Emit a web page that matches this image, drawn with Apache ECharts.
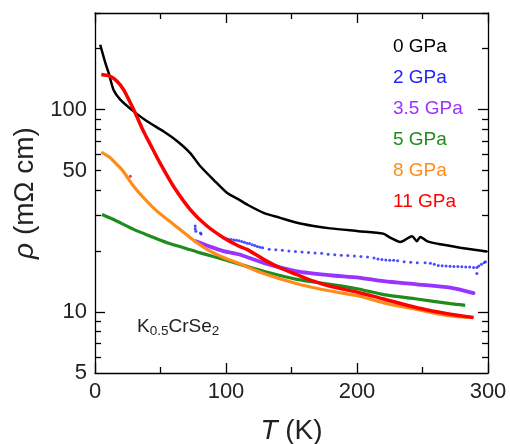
<!DOCTYPE html>
<html>
<head>
<meta charset="utf-8">
<script src="https://cdn.jsdelivr.net/npm/echarts@6/dist/echarts.min.js"></script>
<style>
html,body{margin:0;padding:0;background:#fff;}
#chart{width:510px;height:444px;}
</style>
</head>
<body>
<div id="chart"></div>
<script>
// ---- Data (T in K, rho in mOhm cm) ----
const seriesNames = ['0 GPa', '2 GPa', '3.5 GPa', '5 GPa', '8 GPa', '11 GPa'];
const seriesColors = ['#000000', '#1f1fff', '#9933ff', '#1f8c1f', '#ff8c1a', '#ff0000'];

const p0_T   = [4.0, 7.9, 10.4, 14.2, 19.3, 29.5, 39.7, 52.4, 62.6, 72.7, 80.4, 90.5, 100.7, 109.6, 116, 128.7, 141.4, 154.2, 166.8, 179.6, 201, 220, 225.4, 233, 242, 245.7, 248.3, 253.4, 263.5, 278.8, 299.2];
const p0_rho = [209, 170, 152, 125, 112, 98, 87.6, 78, 70, 61, 52.5, 45, 38.8, 36, 34, 30.9, 29.2, 27.6, 26.6, 25.9, 25.1, 24.4, 23.3, 22.2, 23.7, 22.4, 23.5, 22.4, 21.6, 20.8, 19.9];

const p2_T   = [76.5, 76.5, 77, 80.5, 81, 98, 100, 102, 104, 106, 108, 110, 112, 114, 116, 118, 120, 122, 124, 126, 128, 133, 138, 143, 148, 153, 158, 163, 168, 173, 178, 183, 188, 193, 198, 203, 208, 213, 216, 219, 222, 225, 228, 231, 236, 241, 246, 252, 256, 259, 262, 265, 268, 271, 274, 277, 280, 283, 286, 289, 291.5, 291.5, 293, 295, 297, 298];
const p2_rho = [26.6, 25.8, 25.1, 24.6, 24.3, 23.3, 23.1, 22.9, 22.8, 22.7, 22.6, 22.5, 22.3, 22.1, 21.9, 21.8, 21.5, 21.3, 21.1, 20.9, 20.8, 20.4, 20.3, 20.2, 20.0, 19.9, 19.8, 19.7, 19.6, 19.5, 19.3, 19.2, 19.1, 19.0, 18.9, 18.8, 18.7, 18.5, 18.3, 18.2, 18.1, 18.0, 18.0, 17.9, 17.7, 17.6, 17.5, 17.5, 17.4, 17.2, 17.0, 16.95, 16.9, 16.85, 16.8, 16.8, 16.75, 16.7, 16.7, 16.6, 16.6, 15.5, 16.9, 17.2, 17.5, 17.7];

const p35_T   = [76.5, 85.5, 98.1, 109.6, 128.7, 154.2, 179.6, 201.2, 220.3, 245.7, 271.2, 289];
const p35_rho = [22.4, 21.3, 20.0, 19.3, 17.5, 15.9, 15.2, 14.8, 14.2, 13.7, 13.2, 12.4];

const p5_T   = [5.3, 16.8, 29.5, 42.2, 55, 67.6, 80.4, 93.1, 108.4, 128.7, 154.2, 179.6, 201.2, 220.3, 245.7, 271.2, 282.6];
const p5_rho = [30.3, 28.1, 25.6, 23.7, 22.0, 20.8, 19.6, 18.6, 17.4, 15.9, 14.5, 13.7, 13.0, 12.2, 11.6, 11.0, 10.8];

const p8_T   = [4.8, 11.7, 14.2, 19.3, 21.8, 29.5, 37.1, 47.3, 60, 72.7, 85.5, 98.1, 109.6, 128.7, 154.2, 179.6, 201.2, 220.3, 245.7, 271.2, 285];
const p8_rho = [61.6, 57.8, 55.6, 51.5, 49.3, 41.8, 36.7, 31.5, 27.1, 23.3, 20.4, 18.6, 17.4, 15.5, 13.8, 12.7, 12.0, 11.1, 10.3, 9.56, 9.4];

const p11_T   = [4.8, 11.7, 16.8, 21.8, 29.5, 37.1, 40.9, 49.8, 60, 72.7, 85.5, 98.1, 109.6, 116, 128.7, 141.4, 154.2, 166.8, 179.6, 201.2, 220.3, 245.7, 271.2, 289];
const p11_rho = [149, 146, 138, 125.5, 100, 77.9, 69.9, 54.2, 41.7, 32.1, 26.6, 23.3, 21.2, 20.4, 18.2, 16.5, 15.3, 14.2, 13.4, 12.5, 11.6, 10.5, 9.75, 9.4];

const p11_strayT = [27];
const p11_strayRho = [46.9];

// ---- Axis ticks / labels ----
const xMin = 0, xMax = 300, xInterval = 100;
const yMin = 5, yMax = 300;
const yLabelValues = [5, 10, 50, 100];
const yMajorTicks = [10, 100];
const yMinorTicks = [6, 7, 8, 9, 20, 30, 40, 50, 60, 70, 80, 90, 200, 300];

const FONT = 'Liberation Sans, Arial, Helvetica, sans-serif';

function pairs(xs, ys) { return xs.map((x, i) => [x, ys[i]]); }

const chart = echarts.init(document.getElementById('chart'), null, { renderer: 'canvas' });

const axisLineStyle = { color: '#000', width: 1.3 };
const tickStyle = { color: '#000', width: 1.3 };

const baseY = {
  type: 'log', logBase: 10, min: yMin, max: yMax,
  splitLine: { show: false }, minorSplitLine: { show: false }
};
// decorative tick axes in log10 space (value axes)
const lg = Math.log10;
const baseTickY = {
  type: 'value', min: lg(yMin), max: lg(yMax),
  splitLine: { show: false }, axisLabel: { show: false }
};

const option = {
  backgroundColor: '#fff',
  animation: false,
  grid: { left: 95, right: 22, top: 13, bottom: 71, containLabel: false, outerBoundsMode: 'none' },
  legend: {
    orient: 'vertical', left: 383, top: 32,
    itemWidth: 0, itemHeight: 0, itemGap: 12,
    selectedMode: false,
    textStyle: { fontSize: 19, fontFamily: FONT },
    data: seriesNames.map((n, i) => ({ name: n, icon: 'rect', textStyle: { color: seriesColors[i] } }))
  },
  xAxis: [
    {
      type: 'value', min: xMin, max: xMax, interval: xInterval, position: 'bottom',
      axisLine: { show: true, lineStyle: axisLineStyle },
      axisTick: { show: true, inside: true, length: 10, lineStyle: tickStyle },
      minorTick: { show: true, splitNumber: 2, length: 6, lineStyle: tickStyle },
      axisLabel: { fontSize: 22, color: '#222', fontFamily: FONT, margin: 8 },
      splitLine: { show: false },
      name: '{i|T} (K)', nameLocation: 'middle', nameGap: 44,
      nameTextStyle: { fontSize: 28, color: '#222', fontFamily: FONT,
        rich: { i: { fontStyle: 'italic', fontSize: 28, color: '#222', fontFamily: FONT } } }
    },
    {
      type: 'value', min: xMin, max: xMax, interval: xInterval, position: 'top',
      axisLine: { show: true, lineStyle: axisLineStyle },
      axisTick: { show: true, inside: true, length: 10, lineStyle: tickStyle },
      minorTick: { show: true, splitNumber: 2, length: 6, lineStyle: tickStyle },
      axisLabel: { show: false }, splitLine: { show: false }
    }
  ],
  yAxis: [
    Object.assign({}, baseY, {
      position: 'left',
      axisLine: { show: true, lineStyle: axisLineStyle },
      axisTick: { show: true, inside: true, length: 10, customValues: yMajorTicks, lineStyle: tickStyle },
      axisLabel: { show: true, customValues: yLabelValues, fontSize: 22, color: '#222', fontFamily: FONT, margin: 8 },
      name: '{i|ρ} (mΩ cm)', nameLocation: 'middle', nameGap: 52, nameRotate: 90,
      nameTextStyle: { fontSize: 28, color: '#222', fontFamily: FONT,
        rich: { i: { fontStyle: 'italic', fontSize: 28, color: '#222', fontFamily: FONT } } }
    }),
    Object.assign({}, baseY, {
      position: 'left',
      axisLine: { show: false },
      axisTick: { show: true, inside: true, length: 6, customValues: yMinorTicks, lineStyle: tickStyle },
      axisLabel: { show: false }
    }),
    Object.assign({}, baseTickY, {
      position: 'right',
      axisLine: { show: true, lineStyle: axisLineStyle },
      axisTick: { show: true, inside: true, length: 10, customValues: yMajorTicks.map(lg), lineStyle: tickStyle }
    }),
    Object.assign({}, baseTickY, {
      position: 'right',
      axisLine: { show: false },
      axisTick: { show: true, inside: true, length: 6, customValues: yMinorTicks.map(lg), lineStyle: tickStyle }
    })
  ],
  graphic: [
    {
      type: 'text', left: 137, top: 317,
      style: {
        text: 'K{s|0.5}CrSe{s|2}',
        font: '19px ' + FONT, fill: '#222',
        rich: {
          s: { fontSize: 13.5, fontFamily: FONT, fill: '#222', padding: [9, 0, 0, 0] }
        }
      }
    }
  ],
  series: [
    { name: seriesNames[0], type: 'line', data: pairs(p0_T, p0_rho), showSymbol: false, smooth: 0.25,
      lineStyle: { color: seriesColors[0], width: 2.5 }, itemStyle: { color: seriesColors[0] } },
    { name: seriesNames[1], type: 'scatter', data: pairs(p2_T, p2_rho), symbol: 'circle', symbolSize: 3,
      itemStyle: { color: seriesColors[1] } },
    { name: seriesNames[2], type: 'line', data: pairs(p35_T, p35_rho), showSymbol: false, smooth: 0.25,
      lineStyle: { color: seriesColors[2], width: 3.8, cap: 'round' }, itemStyle: { color: seriesColors[2] } },
    { name: seriesNames[3], type: 'line', data: pairs(p5_T, p5_rho), showSymbol: false, smooth: 0.25,
      lineStyle: { color: seriesColors[3], width: 3.2 }, itemStyle: { color: seriesColors[3] } },
    { name: seriesNames[4], type: 'line', data: pairs(p8_T, p8_rho), showSymbol: false, smooth: 0.25,
      lineStyle: { color: seriesColors[4], width: 3.2 }, itemStyle: { color: seriesColors[4] } },
    { name: seriesNames[5], type: 'line', data: pairs(p11_T, p11_rho), showSymbol: false, smooth: 0.25,
      lineStyle: { color: seriesColors[5], width: 3.5 }, itemStyle: { color: seriesColors[5] } },
    { name: '11 GPa stray', type: 'scatter', data: pairs(p11_strayT, p11_strayRho), symbolSize: 3,
      itemStyle: { color: seriesColors[5] } }
  ]
};

chart.setOption(option);
</script>
</body>
</html>
